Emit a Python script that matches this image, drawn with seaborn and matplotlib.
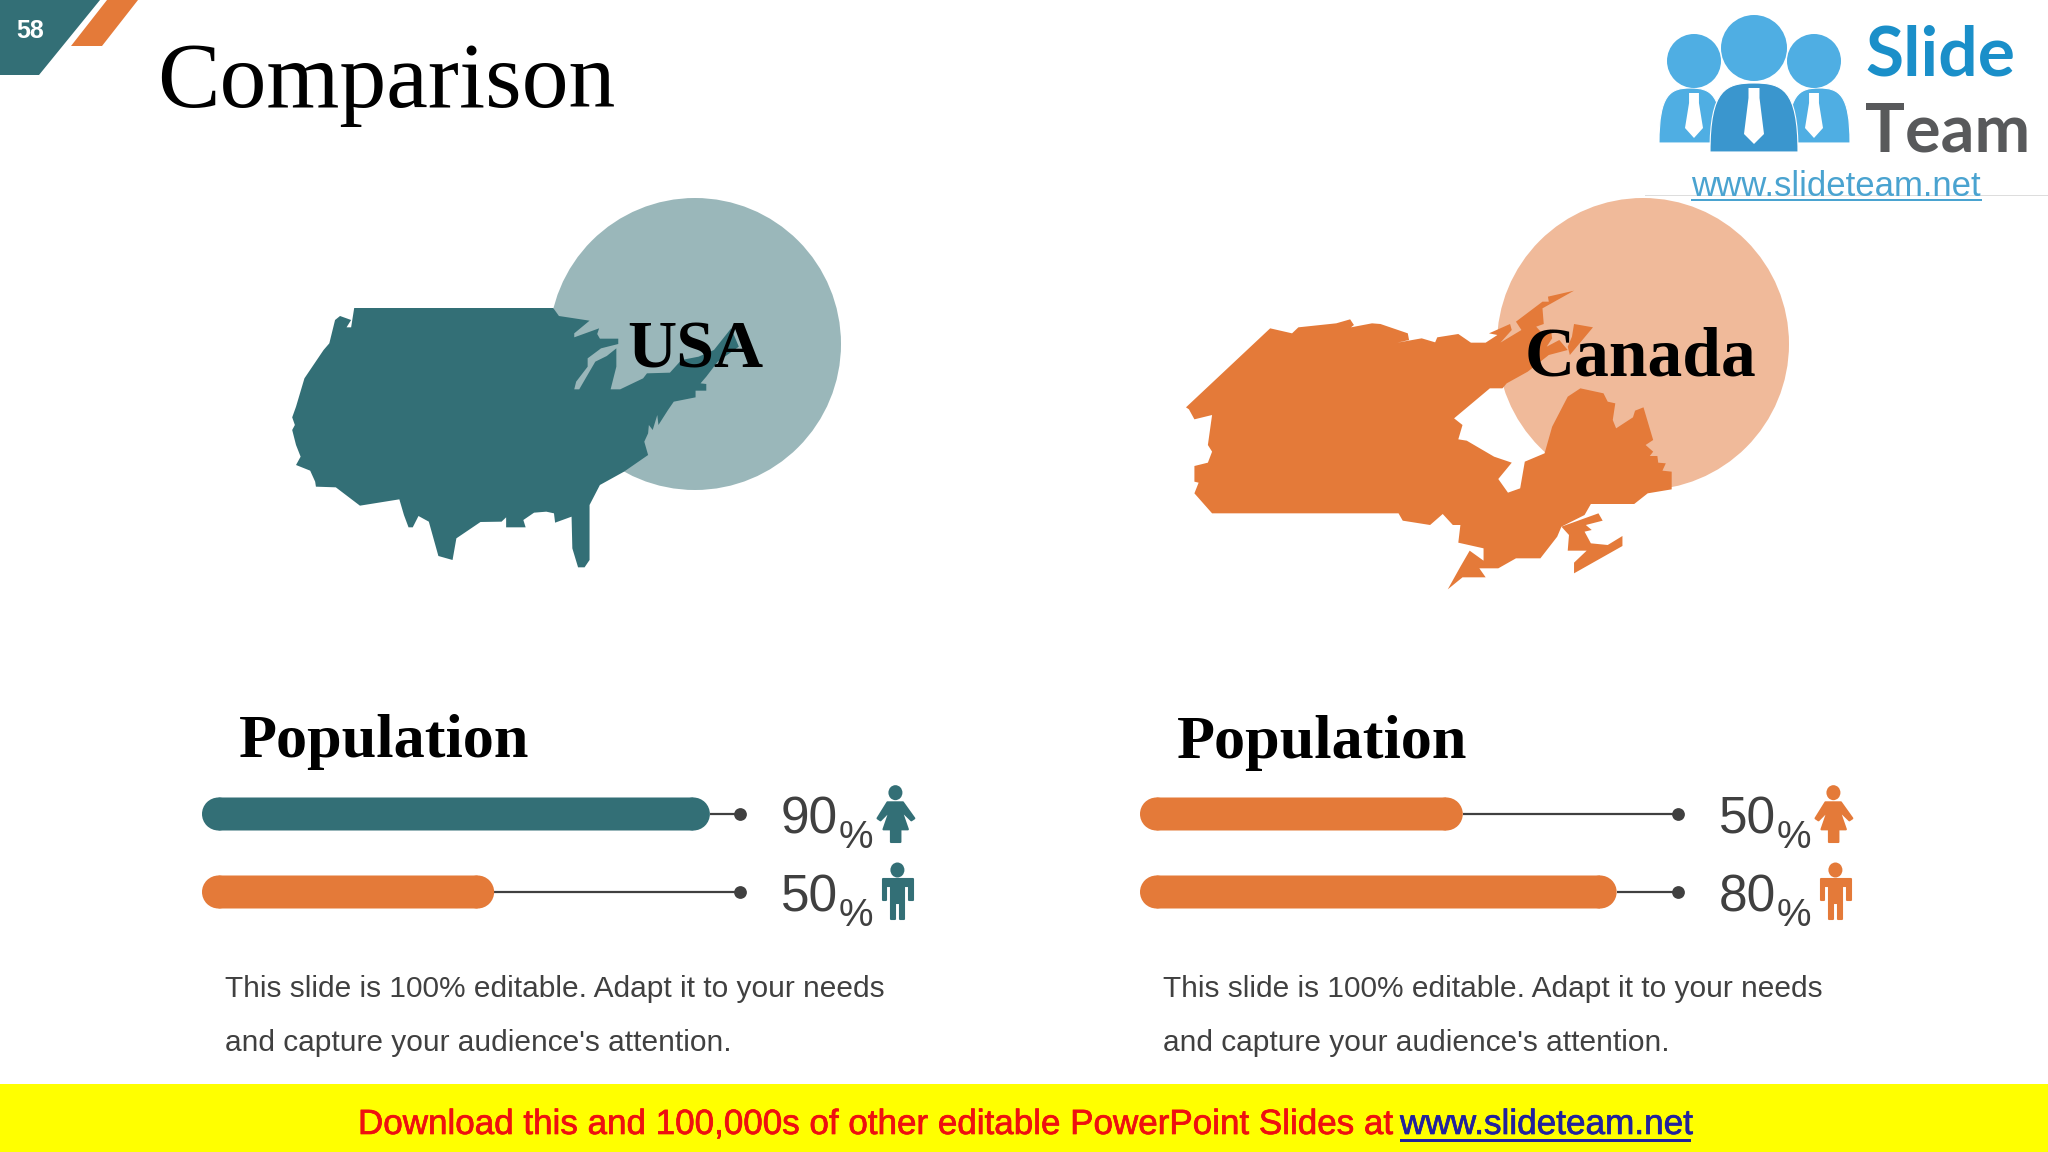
import matplotlib
matplotlib.use("Agg")
import matplotlib.pyplot as plt
import matplotlib.patheffects as pe
import pandas as pd
import seaborn as sns
from matplotlib.patches import Polygon, Circle, Ellipse, PathPatch, Rectangle
from matplotlib.path import Path

# ---------- data ----------
countries = ["USA", "Canada"]
usa_labels = [90, 50]
canada_labels = [50, 80]
# drawn bar lengths, as a share of the track
usa_lengths = [94.4, 54.3]
canada_lengths = [60.0, 88.6]
usa_colors = ["#336F76", "#E47A39"]
canada_colors = ["#E47A39", "#E47A39"]
title = "Comparison"
heading = "Population"
body_lines = ["This slide is 100% editable. Adapt it to your needs",
              "and capture your audience's attention."]
footer_text = "Download this and 100,000s of other editable PowerPoint Slides at"
footer_link = "www.slideteam.net"

TEAL, ORANGE = "#336F76", "#E47A39"
LTEAL, LORANGE = "#9AB7BA", "#F0BA9A"
GREY = "#404040"
SANS, SERIF = "Liberation Sans", "Liberation Serif"

sns.set_style("white")
plt.rcParams["font.family"] = [SANS, "DejaVu Sans"]
W, H = 2048, 1152
fig = plt.figure(figsize=(W / 100, H / 100), dpi=100, facecolor="white")
bg = fig.add_axes([0, 0, 1, 1], zorder=0)
bg.set_xlim(0, W)
bg.set_ylim(H, 0)
bg.axis("off")


def poly(points, color, sx=1.0, sy=1.0, ox=0.0, oy=0.0, z=2, lw=0.0):
    pts = [(ox + x / sx, oy + y / sy) for x, y in points]
    bg.add_patch(Polygon(pts, closed=True, fc=color, ec=color if lw else "none", lw=lw, joinstyle="round", zorder=z))


# ---------- corner flags ----------
poly([(0, 0), (100, 0), (39, 75), (0, 75)], TEAL)
poly([(107, 0), (138, 0), (102, 46), (71, 46)], ORANGE)
bg.text(30, 31, "58", color="white", fontsize=18, fontweight="bold", ha="center", va="center", family=SANS)
bg.text(157, 107, title, fontsize=67.5, family=SERIF, color="black", ha="left", va="baseline", zorder=6)

# ---------- circles ----------
bg.add_patch(Circle((695, 344), 146, fc=LTEAL, ec="none", zorder=1))
bg.add_patch(Circle((1643, 344), 146, fc=LORANGE, ec="none", zorder=1))

# ---------- maps (outline) ----------
usa_shape = [(220,384),(740,384),(755,408),(835,422),(795,460),(795,472),(860,445),(855,462),(862,476),(910,476),
 (910,492),(865,505),(830,535),(830,560),(800,605),(795,628),(808,628),(850,545),(880,528),(905,505),(905,560),
 (890,628),(915,628),(975,595),(985,580),(1045,578),(1075,540),(1120,530),(1160,510),(1205,445),(1225,500),
 (1170,545),(1140,590),(1125,610),(1140,612),(1140,632),(1112,632),(1112,652),(1055,665),(1040,690),(1015,735),
 (1012,705),(1000,750),(990,735),(988,760),(978,785),(988,825),(925,875),(862,915),(835,975),(835,1140),(822,1162),
 (805,1162),(790,1105),(788,1010),(745,1028),(742,1000),(722,995),(690,998),(662,1020),(668,1042),(617,1042),
 (617,1012),(605,1025),(550,1026),(487,1075),(477,1140),(440,1128),(415,1025),(388,1008),(373,1042),(362,1042),
 (350,1005),(338,958),(235,977),(172,922),(120,920),(118,905),(105,872),(68,855),(80,830),(68,795),(58,750),
 (65,735),(58,712),(68,680),(90,595),(140,510),(155,490),(170,420),(183,408),(212,420),(200,442),(212,442)]
poly(usa_shape, TEAL, 2.613, 3, 270, 180)

canada_shape = [(38,682),(238,445),(290,460),(305,442),(395,430),(428,418),(437,435),(430,442),(480,430),(500,432),
 (565,460),(568,480),(540,488),(598,475),(630,487),(635,472),(685,462),(715,488),(750,488),(778,465),(758,460),
 (808,432),(812,450),(785,488),(835,450),(822,425),(885,365),(900,365),(898,350),(960,332),(885,385),(888,432),
 (870,440),(888,465),(905,448),(908,475),(895,500),(925,480),(945,510),(900,525),(850,575),(800,610),(790,625),
 (760,625),(675,715),(695,735),(685,778),(705,782),(770,830),(812,848),(780,897),(803,938),(832,925),(843,845),
 (890,820),(908,740),(945,650),(975,625),(1030,640),(1040,665),(1058,670),(1052,720),(1060,745),(1100,712),
 (1105,692),(1125,682),(1148,780),(1130,795),(1148,815),(1140,828),(1158,828),(1160,848),(1178,850),(1170,872),
 (1192,875),(1192,928),(1135,940),(1103,972),(1000,972),(985,1005),(930,1040),(920,1070),(880,1135),(822,1135),
 (780,1165),(735,1165),(750,1192),(695,1192),(660,1228),(690,1160),(712,1112),(745,1142),(745,1105),(685,1088),
 (690,1035),(672,1035),(648,1002),(618,1035),(553,1022),(543,1000),(100,1000),(58,940),(68,908),(58,905),(58,858),
 (90,848),(100,815),(90,795),(100,705),(58,718),(45,688)]
poly(canada_shape, ORANGE, 2.376, 3, 1170, 180)
poly([(960,432),(1005,442),(950,525),(945,500),(955,470)], ORANGE, 2.376, 3, 1170, 180)
poly([(930,1040),(1018,1000),(1028,1022),(988,1035),(1002,1050),(985,1055),(1000,1090),(1040,1095),(1075,1068),
      (1075,1098),(960,1180),(960,1148),(990,1112),(945,1112),(948,1065)], ORANGE, 2.376, 3, 1170, 180)

bg.text(695, 368, countries[0], fontsize=49, fontweight="bold", family=SERIF, ha="center", va="baseline", color="black", zorder=5)
bg.text(1641, 376, countries[1], fontsize=50, fontweight="bold", family=SERIF, ha="center", va="baseline", color="black", zorder=5)

# ---------- people icons ----------
woman_body = [(1422,97),(1453,97),(1476,145),(1470,151),(1450,122),(1463,178),(1448,178),(1448,216),(1429,216),
              (1429,178),(1414,178),(1427,122),(1408,151),(1402,145)]
man_body = [(1414,327),(1473,327),(1473,390),(1466,390),(1466,347),(1455,347),(1455,448),(1447,448),(1447,400),
            (1438,400),(1438,448),(1430,448),(1430,347),(1419,347),(1419,390),(1414,390)]


def people(color, shift):
    poly(woman_body, color, 2.01, 3, 180 + shift, 770, z=3, lw=1.5)
    poly(man_body, color, 2.01, 3, 180 + shift, 770, z=3, lw=1.5)
    bg.add_patch(Ellipse((1438 / 2.01 + 180 + shift, 68 / 3 + 770), 14, 15, fc=color, ec="none", zorder=3))
    bg.add_patch(Ellipse((1442 / 2.01 + 180 + shift, 300 / 3 + 770), 14, 15, fc=color, ec="none", zorder=3))


# ---------- panels ----------
SHIFT = 938
panels = [(0, usa_lengths, usa_labels, usa_colors, TEAL), (SHIFT, canada_lengths, canada_labels, canada_colors, ORANGE)]
for shift, lengths, labels, colors, icon_color in panels:
    bx0, bx1, by0, by1 = 202 + shift, 740 + shift, 775, 931
    ax = fig.add_axes([bx0 / W, 1 - by1 / H, (bx1 - bx0) / W, (by1 - by0) / H], zorder=3)
    ax.patch.set_alpha(0)
    df = pd.DataFrame({"row": ["top", "bottom"], "length": lengths})
    sns.barplot(data=df, x="length", y="row", hue="row", palette=colors, orient="h", width=33 / 78,
                saturation=1, legend=False, ax=ax)
    ax.set_xlim(0, 100)
    ax.set_ylim(1.5, -0.5)
    ax.axis("off")
    rx = 16.5 / ((bx1 - bx0) / 100)
    for i, length in enumerate(lengths):
        ax.plot([length, 100], [i, i], color=GREY, lw=1.6, zorder=1, solid_capstyle="butt")
        ax.plot([100], [i], "o", color=GREY, ms=9.2, mew=0, clip_on=False, zorder=1)
    # pill ends: each seaborn bar keeps its own length and gets round caps
    for p, c in zip(list(ax.patches), colors):
        x, y, w, h = p.get_x(), p.get_y(), p.get_width(), p.get_height()
        p.set_x(x + rx)
        p.set_width(w - 2 * rx)
        p.set_zorder(3)
        p.set_snap(False)
        p.set_linewidth(0)
        for cx in (x + rx, x + w - rx):
            ax.add_patch(Ellipse((cx, y + h / 2), 2 * rx, h, fc=c, ec="none", zorder=3))
    for lab, yb in zip(labels, [834, 912]):
        bg.text(781 + shift, yb, str(lab), fontsize=37, color=GREY, ha="left", va="baseline", zorder=5)
        bg.text(839 + shift, yb + 14, "%", fontsize=28, color=GREY, ha="left", va="baseline", zorder=5)
    people(icon_color, shift)
    bg.text(239 + shift, 757 + (1 if shift else 0), heading, fontsize=44.8, fontweight="bold", family=SERIF, color="black", ha="left", va="baseline")
    bg.text(225 + shift, 989, body_lines[0], fontsize=21.5, color=GREY, ha="left", va="center")
    bg.text(225 + shift, 1043, body_lines[1], fontsize=21.5, color=GREY, ha="left", va="center")

# ---------- logo ----------
BLUE = "#4FAEE3"
DBLUE = "#3A96CE"


def dome(x0, x1, ytop, ybot, color, z):
    xm, wd = (x0 + x1) / 2, x1 - x0
    verts = [(x0, ybot), (x0, ytop + 6), (x0 + wd * .18, ytop), (xm, ytop),
             (x1 - wd * .18, ytop), (x1, ytop + 6), (x1, ybot), (x0, ybot)]
    codes = [Path.MOVETO, Path.CURVE4, Path.CURVE4, Path.CURVE4, Path.CURVE4, Path.CURVE4, Path.CURVE4, Path.CLOSEPOLY]
    bg.add_patch(PathPatch(Path(verts, codes), fc=color, ec="white", lw=0.8, zorder=z))


def tie(cx, y0, y1, hw, z):
    poly([(cx - hw * .55, y0), (cx + hw * .55, y0), (cx + hw * .55, y0 + 10), (cx + hw, y1 - 10), (cx, y1),
          (cx - hw, y1 - 10), (cx - hw * .55, y0 + 10)], "white", z=z)


dome(1659, 1722, 88, 143, BLUE, 2)
dome(1788, 1850, 88, 143, BLUE, 2)
dome(1710, 1798, 83, 152, DBLUE, 3)
for cx, cy, r in [(1694, 61, 27), (1814, 61, 27), (1754, 48, 33)]:
    bg.add_patch(Circle((cx, cy), r, fc=BLUE, ec="none", zorder=3))
tie(1694, 93, 138, 9, 4)
tie(1814, 93, 138, 9, 4)
tie(1754, 88, 144, 10, 4)
bg.text(1865, 75, "Slide", fontsize=50, fontweight="bold", color="#1A8FC9", family=["Lato", SANS], ha="left", va="baseline")
bg.text(1865, 151, "Team", fontsize=48, fontweight="bold", color="#58595B", family=["Lato", SANS], ha="left", va="baseline")
bg.text(1836, 196, footer_link, fontsize=25, color="#4AA3D0", ha="center", va="baseline", zorder=4)
bg.add_patch(Rectangle((1645, 195), 403, 1, fc="#DDDDDD", ec="none", zorder=0.5))
bg.add_patch(Rectangle((1691, 199), 291, 2, fc="#4AA3D0", ec="none", zorder=4))

# ---------- footer ----------
bg.add_patch(Rectangle((0, 1084), W, H - 1084, fc="#FFFF00", ec="none", zorder=1))
t1 = bg.text(358, 1134, footer_text, fontsize=25.2, color="#EE1010", ha="left", va="baseline", zorder=3)
t2 = bg.text(1400, 1134, footer_link, fontsize=25.3, color="#22229C", ha="left", va="baseline", zorder=3)
for t, col in ((t1, "#EE1010"), (t2, "#22229C")):
    t.set_path_effects([pe.withStroke(linewidth=0.5, foreground=col)])
bg.add_patch(Rectangle((1400, 1139), 291, 2.5, fc="#22229C", ec="none", zorder=3))

fig.savefig("out.png", dpi=100, facecolor="white")
